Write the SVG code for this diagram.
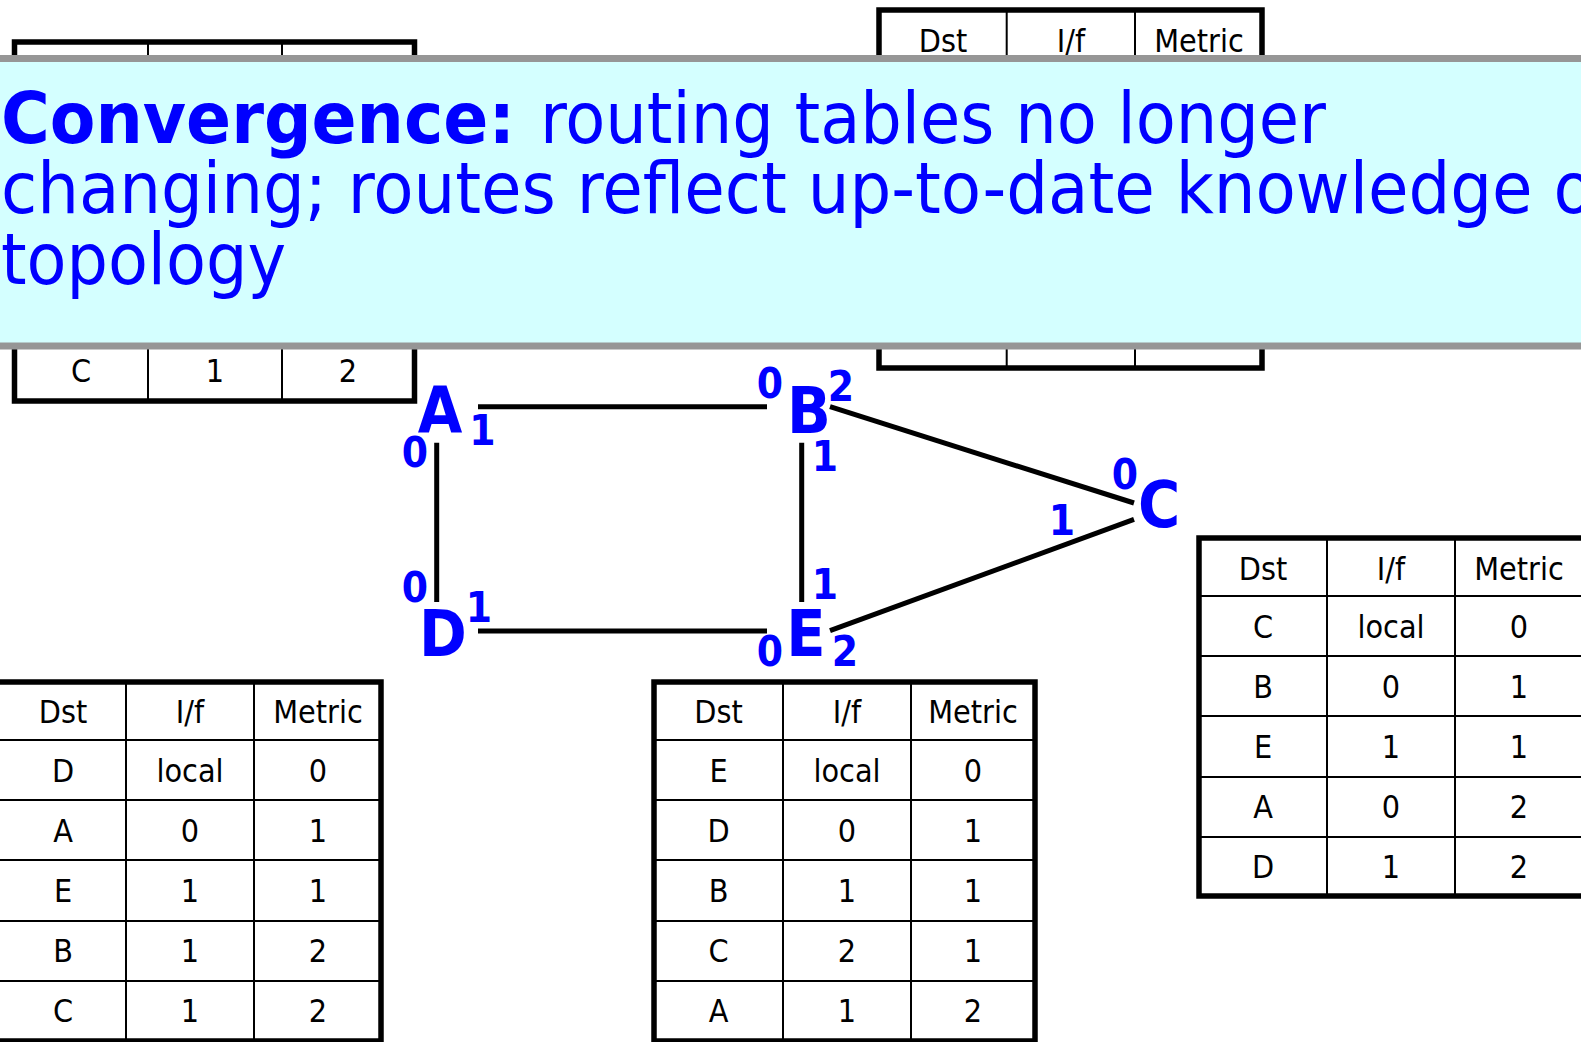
<svg xmlns="http://www.w3.org/2000/svg" width="1581" height="1042" viewBox="0 0 1581 1042">
<style>
text{font-family:'DejaVu Sans Condensed','DejaVu Sans',sans-serif;font-stretch:condensed}
.out{fill:#fff;stroke:#000;stroke-width:5.5}
.in{stroke:#000;stroke-width:2;fill:none}
.cell{font-size:32px;fill:#000;text-anchor:middle}
.link{stroke:#000;stroke-width:5;fill:none}
.node{font-size:64px;font-weight:bold;fill:#0000FF;text-anchor:middle}
.port{font-size:42px;font-weight:bold;fill:#0000FF;text-anchor:middle}
.banner{fill:#D4FFFF;stroke:#969696;stroke-width:7}
.btxt{font-size:72px;fill:#0000FF}
</style>
<rect x="0" y="0" width="1581" height="1042" fill="#fff"/>

<g id="table-A">
<rect class="out" x="14.5" y="42" width="400" height="359"/>
<path class="in" d="M148 42V401M282 42V401M14.5 100H414.5M14.5 160H414.5M14.5 220H414.5M14.5 281H414.5M14.5 341H414.5"/>
<text class="cell" x="81" y="382">C</text>
<text class="cell" x="215" y="382">1</text>
<text class="cell" x="348" y="382">2</text>
</g>

<g id="table-B">
<rect class="out" x="879" y="10" width="383" height="358"/>
<path class="in" d="M1006.7 10V368M1135 10V368M879 68H1262M879 128H1262M879 188H1262M879 248H1262M879 308H1262"/>
<text class="cell" x="943" y="52">Dst</text>
<text class="cell" x="1071" y="52">I/f</text>
<text class="cell" x="1199" y="52">Metric</text>
</g>

<g id="banner">
<rect class="banner" x="-10" y="58.5" width="1601" height="287.5"/>
<text class="btxt" x="1" y="143" font-weight="bold" textLength="514" lengthAdjust="spacingAndGlyphs">Convergence:</text>
<text class="btxt" x="540" y="143" textLength="786" lengthAdjust="spacingAndGlyphs">routing tables no longer</text>
<text class="btxt" x="1" y="213" textLength="1616" lengthAdjust="spacingAndGlyphs">changing; routes reflect up-to-date knowledge of</text>
<text class="btxt" x="1" y="284" textLength="285" lengthAdjust="spacingAndGlyphs">topology</text>
</g>

<g id="connectors">
<line class="link" x1="478" y1="406.7" x2="767" y2="406.7"/>
<line class="link" x1="436.7" y1="442.7" x2="436.7" y2="602"/>
<line class="link" x1="801.7" y1="442.7" x2="801.7" y2="602"/>
<line class="link" x1="478" y1="631" x2="767" y2="631"/>
<line class="link" x1="830" y1="406.7" x2="1134" y2="503"/>
<line class="link" x1="830" y1="630.7" x2="1134" y2="519.3"/>
</g>

<g id="node-A">
<text class="node" x="440" y="433">A</text>
<text class="port" x="415" y="467">0</text>
<text class="port" x="482.5" y="445">1</text>
</g>
<g id="node-B">
<text class="node" x="809" y="433">B</text>
<text class="port" x="770" y="398">0</text>
<text class="port" x="841" y="401">2</text>
<text class="port" x="825" y="471">1</text>
</g>
<g id="node-C">
<text class="node" x="1159" y="527">C</text>
<text class="port" x="1125" y="489">0</text>
<text class="port" x="1062" y="535">1</text>
</g>
<g id="node-D">
<text class="node" x="443" y="656">D</text>
<text class="port" x="415" y="602">0</text>
<text class="port" x="479" y="622">1</text>
</g>
<g id="node-E">
<text class="node" x="806" y="656">E</text>
<text class="port" x="825" y="599">1</text>
<text class="port" x="770" y="666">0</text>
<text class="port" x="845" y="666">2</text>
</g>

<g id="table-D">
<rect class="out" x="-5" y="682" width="386" height="359"/>
<path class="in" d="M126 682V1041M254 682V1041M-5 740H381M-5 800H381M-5 860H381M-5 921H381M-5 981H381"/>
<text class="cell" x="63" y="723">Dst</text><text class="cell" x="190" y="723">I/f</text><text class="cell" x="318" y="723">Metric</text>
<text class="cell" x="63" y="782">D</text><text class="cell" x="190" y="782">local</text><text class="cell" x="318" y="782">0</text>
<text class="cell" x="63" y="842">A</text><text class="cell" x="190" y="842">0</text><text class="cell" x="318" y="842">1</text>
<text class="cell" x="63" y="902">E</text><text class="cell" x="190" y="902">1</text><text class="cell" x="318" y="902">1</text>
<text class="cell" x="63" y="962">B</text><text class="cell" x="190" y="962">1</text><text class="cell" x="318" y="962">2</text>
<text class="cell" x="63" y="1022">C</text><text class="cell" x="190" y="1022">1</text><text class="cell" x="318" y="1022">2</text>
</g>

<g id="table-E">
<rect class="out" x="654" y="682" width="381" height="359"/>
<path class="in" d="M783 682V1041M911 682V1041M654 740H1035M654 800H1035M654 860H1035M654 921H1035M654 981H1035"/>
<text class="cell" x="718.5" y="723">Dst</text><text class="cell" x="847" y="723">I/f</text><text class="cell" x="973" y="723">Metric</text>
<text class="cell" x="718.5" y="782">E</text><text class="cell" x="847" y="782">local</text><text class="cell" x="973" y="782">0</text>
<text class="cell" x="718.5" y="842">D</text><text class="cell" x="847" y="842">0</text><text class="cell" x="973" y="842">1</text>
<text class="cell" x="718.5" y="902">B</text><text class="cell" x="847" y="902">1</text><text class="cell" x="973" y="902">1</text>
<text class="cell" x="718.5" y="962">C</text><text class="cell" x="847" y="962">2</text><text class="cell" x="973" y="962">1</text>
<text class="cell" x="718.5" y="1022">A</text><text class="cell" x="847" y="1022">1</text><text class="cell" x="973" y="1022">2</text>
</g>

<g id="table-C">
<rect class="out" x="1199" y="538" width="385" height="358"/>
<path class="in" d="M1327 538V896M1455 538V896M1199 596H1584M1199 656H1584M1199 716H1584M1199 777H1584M1199 837H1584"/>
<text class="cell" x="1263" y="580">Dst</text><text class="cell" x="1391" y="580">I/f</text><text class="cell" x="1519" y="580">Metric</text>
<text class="cell" x="1263" y="638">C</text><text class="cell" x="1391" y="638">local</text><text class="cell" x="1519" y="638">0</text>
<text class="cell" x="1263" y="698">B</text><text class="cell" x="1391" y="698">0</text><text class="cell" x="1519" y="698">1</text>
<text class="cell" x="1263" y="758">E</text><text class="cell" x="1391" y="758">1</text><text class="cell" x="1519" y="758">1</text>
<text class="cell" x="1263" y="818">A</text><text class="cell" x="1391" y="818">0</text><text class="cell" x="1519" y="818">2</text>
<text class="cell" x="1263" y="878">D</text><text class="cell" x="1391" y="878">1</text><text class="cell" x="1519" y="878">2</text>
</g>
</svg>
